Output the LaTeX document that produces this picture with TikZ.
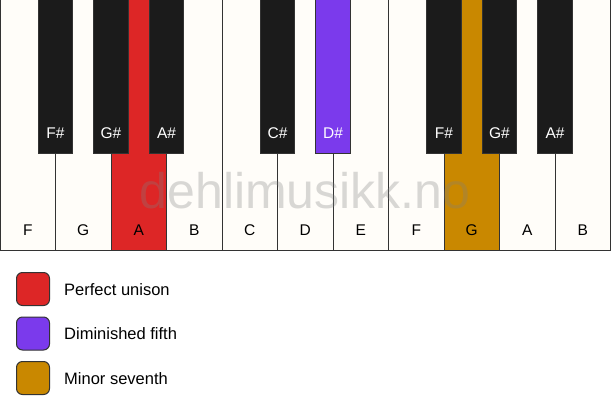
\documentclass[tikz,border=0pt]{standalone}
\usepackage{fontspec}
\setmainfont{Liberation Sans}
\definecolor{keywhite}{HTML}{FFFDF9}
\definecolor{keyblack}{HTML}{1B1B1B}
\definecolor{unison}{HTML}{DD2626}
\definecolor{dimfifth}{HTML}{7B3AEC}
\definecolor{minsev}{HTML}{C98800}
\definecolor{edge}{HTML}{333333}
\begin{document}
\begin{tikzpicture}[x=1pt,y=-1pt,
  whitekey/.style={draw=edge,line width=1pt,fill=keywhite},
  blackkey/.style={draw=edge,line width=0.6pt,fill=keyblack},
  wlabel/.style={font=\fontsize{15.5}{15.5}\selectfont,text=black},
  blabel/.style={font=\fontsize{15.5}{15.5}\selectfont,text=white},
  legbox/.style={draw=edge,line width=1pt,rounded corners=6pt,minimum width=33pt,minimum height=33pt,inner sep=0pt},
  legtext/.style={font=\fontsize{16.5}{16.5}\selectfont,anchor=west,inner sep=0pt}]
\useasboundingbox (0,0) rectangle (611,417);
\fill[white] (0,0) rectangle (611,417);
% white keys
\foreach \i/\n/\c in {0/F/keywhite,1/G/keywhite,2/A/unison,3/B/keywhite,4/C/keywhite,5/D/keywhite,6/E/keywhite,7/F/keywhite,8/G/minsev,9/A/keywhite,10/B/keywhite}{
  \path[whitekey,fill=\c] ({\i*55.5},0) rectangle ({(\i+1)*55.5},250);
  \node[wlabel] (w\i) at ({\i*55.5+27.75},230) {\n};
}
% black keys
\foreach \i/\n/\c in {1/F\#/keyblack,2/G\#/keyblack,3/A\#/keyblack,5/C\#/keyblack,6/D\#/dimfifth,8/F\#/keyblack,9/G\#/keyblack,10/A\#/keyblack}{
  \path[blackkey,fill=\c] ({\i*55.5-17.25},-1) rectangle ({\i*55.5+17.25},153);
  \node[blabel] (b\i) at ({\i*55.5},133) {\n};
}
\draw[edge,line width=1pt] (0,0) rectangle (611,250);
% watermark
\node[font=\fontsize{50}{50}\selectfont,text=gray,opacity=0.3,anchor=base] (wm) at (305,208) {dehlimusikk.no};
% legend
\node[legbox,fill=unison] (l1) at (33,289) {};
\node[legbox,fill=dimfifth] (l2) at (33,333.5) {};
\node[legbox,fill=minsev] (l3) at (33,378) {};
\node[legtext] (t1) at (64,290) {Perfect unison};
\node[legtext] (t2) at (64,334) {Diminished fifth};
\node[legtext] (t3) at (64,379) {Minor seventh};
\end{tikzpicture}
\end{document}
